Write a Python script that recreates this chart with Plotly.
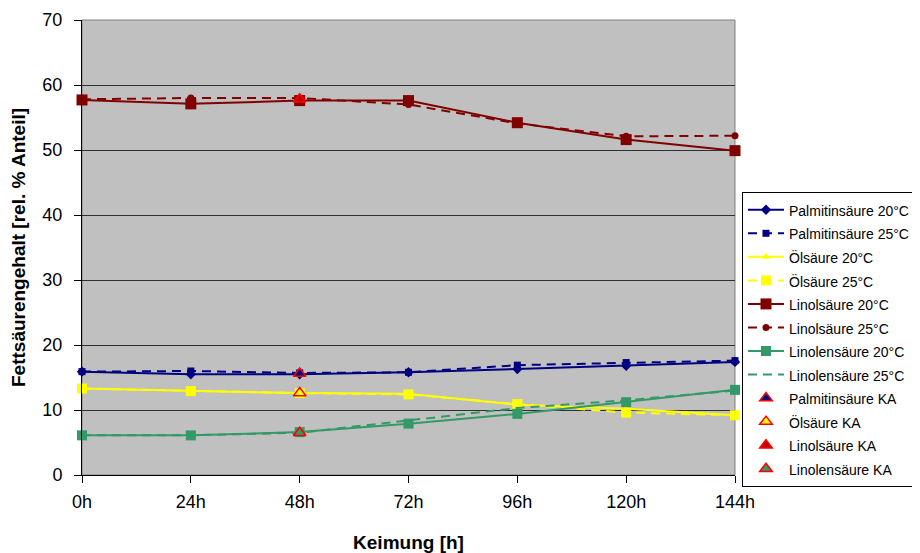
import plotly.graph_objects as go

hours = ["0h", "24h", "48h", "72h", "96h", "120h", "144h"]

palmitin_20 = [15.9, 15.5, 15.5, 15.8, 16.3, 16.8, 17.4]
palmitin_25 = [15.9, 16.0, 15.7, 15.8, 16.9, 17.3, 17.6]
oel_20 = [13.3, 12.9, 12.6, 12.5, 10.8, 10.2, 9.2]
oel_25 = [13.3, 12.9, 12.6, 12.4, 10.9, 9.6, 9.2]
linol_20 = [57.7, 57.1, 57.6, 57.6, 54.2, 51.6, 49.9]
linol_25 = [57.8, 58.0, 58.0, 57.0, 54.1, 52.1, 52.2]
linolen_20 = [6.1, 6.1, 6.6, 7.9, 9.4, 11.2, 13.1]
linolen_25 = [6.1, 6.1, 6.5, 8.4, 10.3, 11.5, 13.0]

ka_hour = ["48h"]
palmitin_ka = [15.6]
oel_ka = [12.6]
linol_ka = [57.8]
linolen_ka = [6.5]

NAVY = "#000080"
YELLOW = "#FFFF00"
DRED = "#800000"
GREEN = "#339966"
DASH = "9px,6px"

LFS = 15.8  # legend font size controls row spacing


def lab(t):
    return f'<span style="font-size:14px">{t}</span>'


fig = go.Figure()

fig.add_trace(go.Scatter(x=hours, y=palmitin_20, mode="lines+markers", name=lab("Palmitinsäure 20°C"),
                         line=dict(color=NAVY, width=2),
                         marker=dict(symbol="diamond", size=8, color=NAVY), cliponaxis=False))
fig.add_trace(go.Scatter(x=hours, y=palmitin_25, mode="lines+markers", name=lab("Palmitinsäure 25°C"),
                         line=dict(color=NAVY, width=2, dash=DASH),
                         marker=dict(symbol="square", size=7, color=NAVY), cliponaxis=False))
fig.add_trace(go.Scatter(x=hours, y=oel_20, mode="lines+markers", name=lab("Ölsäure 20°C"),
                         line=dict(color=YELLOW, width=2),
                         marker=dict(symbol="triangle-up", size=8, color=YELLOW), cliponaxis=False))
fig.add_trace(go.Scatter(x=hours, y=oel_25, mode="lines+markers", name=lab("Ölsäure 25°C"),
                         line=dict(color=YELLOW, width=2, dash=DASH),
                         marker=dict(symbol="square", size=10, color=YELLOW), cliponaxis=False))
fig.add_trace(go.Scatter(x=hours, y=linol_20, mode="lines+markers", name=lab("Linolsäure 20°C"),
                         line=dict(color=DRED, width=2),
                         marker=dict(symbol="square", size=11, color=DRED), cliponaxis=False))
fig.add_trace(go.Scatter(x=hours, y=linol_25, mode="lines+markers", name=lab("Linolsäure 25°C"),
                         line=dict(color=DRED, width=2, dash=DASH),
                         marker=dict(symbol="circle", size=7, color=DRED), cliponaxis=False))
fig.add_trace(go.Scatter(x=hours, y=linolen_20, mode="lines+markers", name=lab("Linolensäure 20°C"),
                         line=dict(color=GREEN, width=2),
                         marker=dict(symbol="square", size=10, color=GREEN), cliponaxis=False))
fig.add_trace(go.Scatter(x=hours, y=linolen_25, mode="lines", name=lab("Linolensäure 25°C"),
                         line=dict(color=GREEN, width=2, dash=DASH), cliponaxis=False))

for vals, fill, nm in [(palmitin_ka, NAVY, "Palmitinsäure KA"), (oel_ka, YELLOW, "Ölsäure KA"),
                       (linol_ka, "#C00000", "Linolsäure KA"), (linolen_ka, GREEN, "Linolensäure KA")]:
    fig.add_trace(go.Scatter(x=ka_hour, y=vals, mode="markers", name=lab(nm),
                             marker=dict(symbol="triangle-up", size=11, color=fill,
                                         line=dict(color="#FF0000", width=1.5)), cliponaxis=False))

FONT = "Arial, Liberation Sans, sans-serif"

# page body has an 8px default margin; figure is sized so the page matches 920x553
fig.update_layout(
    width=912, height=545,
    margin=dict(l=74, r=185, t=12, b=78, autoexpand=False),
    paper_bgcolor="white",
    plot_bgcolor="#C0C0C0",
    font=dict(family=FONT, color="black", size=18),
    showlegend=True,
    legend=dict(x=1.0107, xanchor="left", y=0.622, yanchor="top",
                bgcolor="white", bordercolor="black", borderwidth=1,
                font=dict(family=FONT, size=LFS, color="black"),
                itemwidth=36, tracegroupgap=0),
    xaxis=dict(type="category", categoryorder="array", categoryarray=hours,
               range=[0, 6], showgrid=False, zeroline=False,
               showline=True, linecolor="black", linewidth=1, mirror=False,
               ticks="outside", ticklen=7, tickcolor="black",
               tickfont=dict(size=18), ticklabelstandoff=3,
               title=dict(text="<b>Keimung [h]</b>", font=dict(size=19), standoff=25)),
    yaxis=dict(range=[0, 70], dtick=10, showgrid=True, gridcolor="#303030", gridwidth=1,
               zeroline=False, showline=True, linecolor="black", linewidth=1,
               ticks="outside", ticklen=7, tickcolor="black",
               tickfont=dict(size=18), ticklabelstandoff=8,
               title=dict(text="<b>Fettsäurengehalt [rel. % Anteil]</b>", font=dict(size=19), standoff=12)),
    shapes=[dict(type="rect", xref="paper", yref="paper", x0=0, x1=1, y0=0, y1=1,
                 line=dict(color="#808080", width=1), layer="below")],
)

fig.write_html("out.html")
